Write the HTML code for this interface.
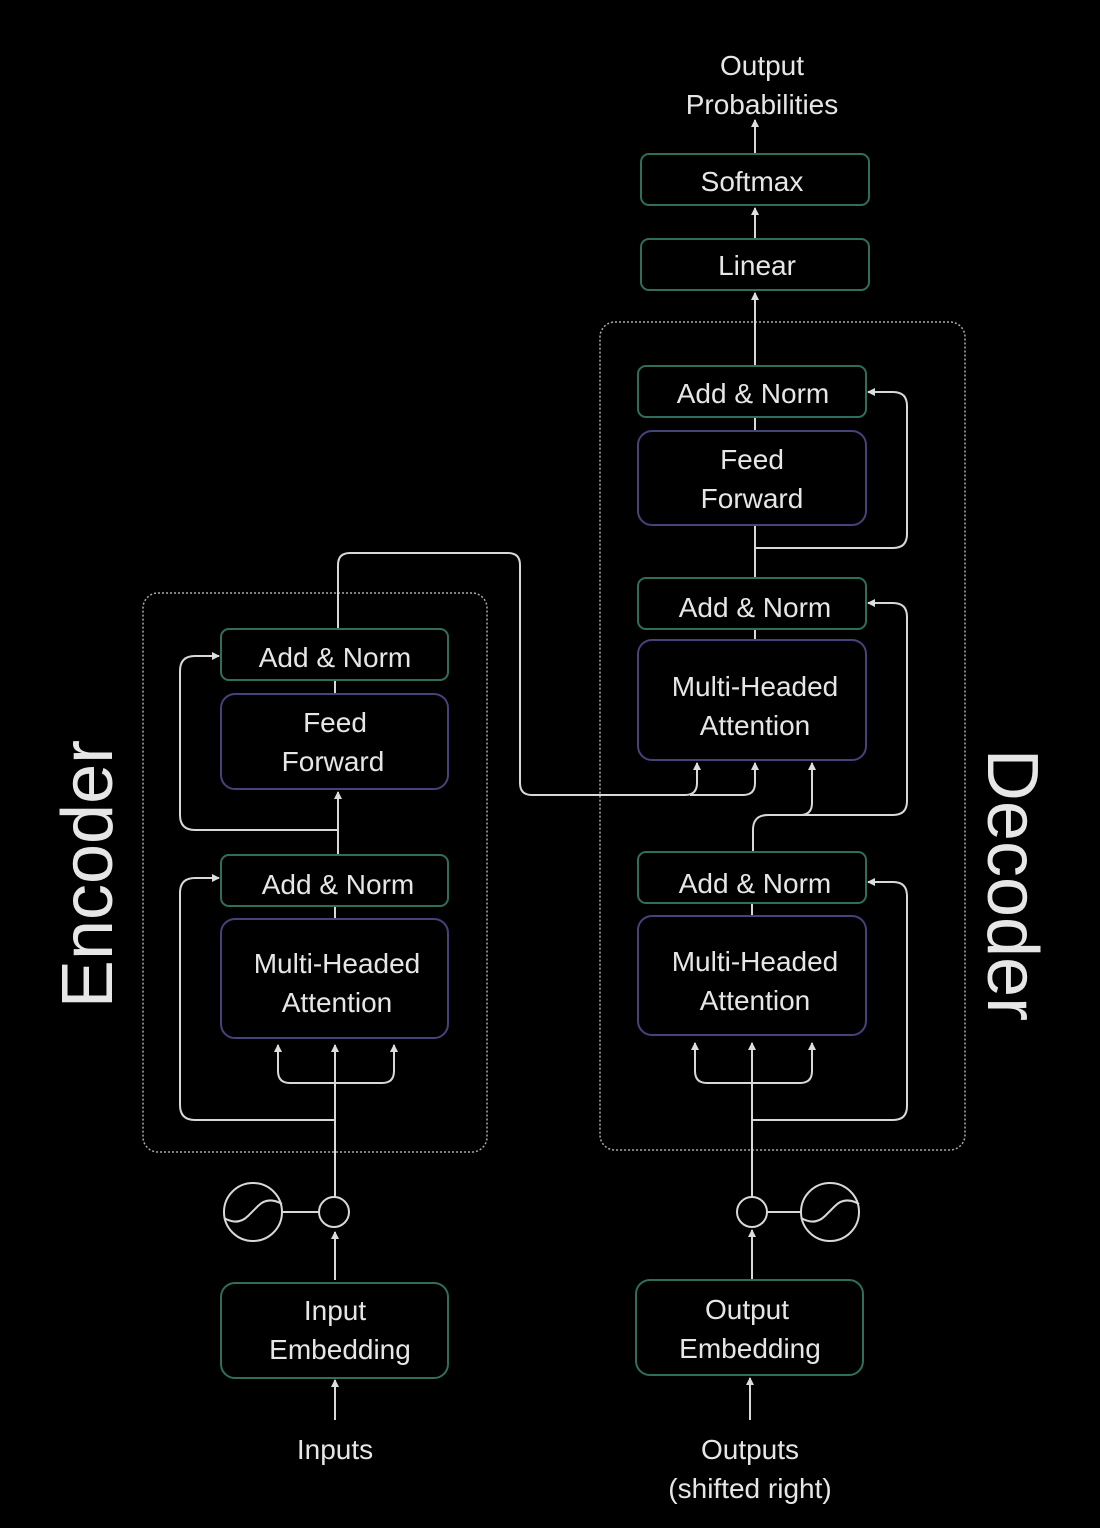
<!DOCTYPE html>
<html><head><meta charset="utf-8"><style>
html,body{margin:0;padding:0;background:#000;}
svg{display:block}
text{font-family:"Liberation Sans","DejaVu Sans",sans-serif;fill:#e6e6e6;}
</style></head><body>
<svg width="1100" height="1528" viewBox="0 0 1100 1528" xmlns="http://www.w3.org/2000/svg">
<defs>
<marker id="a" markerWidth="8" markerHeight="8" refX="7" refY="4" orient="auto" markerUnits="userSpaceOnUse">
<path d="M0,0 L8,4 L0,8 Z" fill="#ddd"/></marker>
</defs>
<rect width="1100" height="1528" fill="#000"/>
<!-- dotted containers -->
<rect x="143" y="593" width="344" height="559" rx="15" fill="none" stroke="#aaa" stroke-width="1.5" stroke-dasharray="2,2"/>
<rect x="600" y="322" width="365" height="828" rx="15" fill="none" stroke="#aaa" stroke-width="1.5" stroke-dasharray="2,2"/>

<g fill="none" stroke="#d8d8d8" stroke-width="2">
<!-- encoder connections -->
<path d="M335,1280 L335,1232" marker-end="url(#a)"/>
<path d="M335,1420 L335,1380" marker-end="url(#a)"/>
<path d="M282,1212 L319,1212"/>
<path d="M335,1197 L335,1045" marker-end="url(#a)"/>
<path d="M278,1045 L278,1071 Q278,1083 290,1083 L382,1083 Q394,1083 394,1071 L394,1045" />
<path d="M278,1052 L278,1045" marker-end="url(#a)"/>
<path d="M394,1052 L394,1045" marker-end="url(#a)"/>
<path d="M335,1120 L195,1120 Q180,1120 180,1105 L180,893 Q180,878 195,878 L219,878" marker-end="url(#a)"/>
<path d="M335,918 L335,906"/>
<path d="M338,855 L338,792" marker-end="url(#a)"/>
<path d="M338,830 L195,830 Q180,830 180,815 L180,671 Q180,656 195,656 L219,656" marker-end="url(#a)"/>
<path d="M335,694 L335,680"/>
<path d="M338,629 L338,565 Q338,553 350,553 L508,553 Q520,553 520,565 L520,783 Q520,795 532,795 L685,795 Q697,795 697,783 L697,763" marker-end="url(#a)"/>
<path d="M690,795 L743,795 Q755,795 755,783 L755,763" marker-end="url(#a)"/>
<!-- decoder connections -->
<path d="M750,1420 L750,1378" marker-end="url(#a)"/>
<path d="M752,1280 L752,1230" marker-end="url(#a)"/>
<path d="M767,1212 L801,1212"/>
<path d="M752,1197 L752,1043" marker-end="url(#a)"/>
<path d="M695,1043 L695,1071 Q695,1083 707,1083 L800,1083 Q812,1083 812,1071 L812,1043"/>
<path d="M695,1050 L695,1043" marker-end="url(#a)"/>
<path d="M812,1050 L812,1043" marker-end="url(#a)"/>
<path d="M752,1120 L893,1120 Q907,1120 907,1106 L907,896 Q907,882 893,882 L868,882" marker-end="url(#a)"/>
<path d="M752,916 L752,903"/>
<path d="M753,852 L753,830 Q753,815 768,815 L800,815 Q812,815 812,803 L812,763" marker-end="url(#a)"/>
<path d="M800,815 L893,815 Q907,815 907,801 L907,617 Q907,603 893,603 L868,603" marker-end="url(#a)"/>
<path d="M755,640 L755,629"/>
<path d="M755,578 L755,525"/>
<path d="M755,548 L893,548 Q907,548 907,534 L907,406 Q907,392 893,392 L868,392" marker-end="url(#a)"/>
<path d="M755,431 L755,417"/>
<path d="M755,366 L755,293" marker-end="url(#a)"/>
<path d="M755,239 L755,208" marker-end="url(#a)"/>
<path d="M755,154 L755,120" marker-end="url(#a)"/>
<!-- circles -->
<circle cx="253" cy="1212" r="29"/>
<path d="M224,1218 Q238,1226 248,1216 L258,1206 Q268,1196 282,1204"/>
<circle cx="334" cy="1212" r="15"/>
<circle cx="752" cy="1212" r="15"/>
<circle cx="830" cy="1212" r="29"/>
<path d="M801,1218 Q815,1226 825,1216 L835,1206 Q845,1196 859,1204"/>
</g>

<!-- boxes -->
<g fill="#000" stroke-width="2">
<rect x="221" y="629" width="227" height="51" rx="8" stroke="#2f6e5c"/>
<rect x="221" y="694" width="227" height="95" rx="14" stroke="#46427a"/>
<rect x="221" y="855" width="227" height="51" rx="8" stroke="#2f6e5c"/>
<rect x="221" y="919" width="227" height="119" rx="14" stroke="#46427a"/>
<rect x="221" y="1283" width="227" height="95" rx="14" stroke="#2f6e5c"/>
<rect x="641" y="154" width="228" height="51" rx="8" stroke="#2f6e5c"/>
<rect x="641" y="239" width="228" height="51" rx="8" stroke="#2f6e5c"/>
<rect x="638" y="366" width="228" height="51" rx="8" stroke="#2f6e5c"/>
<rect x="638" y="431" width="228" height="94" rx="14" stroke="#46427a"/>
<rect x="638" y="578" width="228" height="51" rx="8" stroke="#2f6e5c"/>
<rect x="638" y="640" width="228" height="120" rx="14" stroke="#46427a"/>
<rect x="638" y="852" width="228" height="51" rx="8" stroke="#2f6e5c"/>
<rect x="638" y="916" width="228" height="119" rx="14" stroke="#46427a"/>
<rect x="636" y="1280" width="227" height="95" rx="14" stroke="#2f6e5c"/>
</g>

<g font-size="28" text-anchor="middle">
<text x="335" y="667">Add &amp; Norm</text>
<text x="335" y="732">Feed</text>
<text x="333" y="771">Forward</text>
<text x="338" y="894">Add &amp; Norm</text>
<text x="337" y="973">Multi-Headed</text>
<text x="337" y="1012">Attention</text>
<text x="335" y="1320">Input</text>
<text x="340" y="1359">Embedding</text>
<text x="335" y="1459">Inputs</text>
<text x="762" y="75">Output</text>
<text x="762" y="114">Probabilities</text>
<text x="752" y="191">Softmax</text>
<text x="757" y="275">Linear</text>
<text x="753" y="403">Add &amp; Norm</text>
<text x="752" y="469">Feed</text>
<text x="752" y="508">Forward</text>
<text x="755" y="617">Add &amp; Norm</text>
<text x="755" y="696">Multi-Headed</text>
<text x="755" y="735">Attention</text>
<text x="755" y="893">Add &amp; Norm</text>
<text x="755" y="971">Multi-Headed</text>
<text x="755" y="1010">Attention</text>
<text x="747" y="1319">Output</text>
<text x="750" y="1358">Embedding</text>
<text x="750" y="1459">Outputs</text>
<text x="750" y="1498">(shifted right)</text>
</g>
<text x="0" y="0" font-size="72" text-anchor="middle" transform="translate(112,874) rotate(-90)">Encoder</text>
<text x="0" y="0" font-size="72" text-anchor="middle" transform="translate(988,885) rotate(90)">Decoder</text>
</svg>
</body></html>
